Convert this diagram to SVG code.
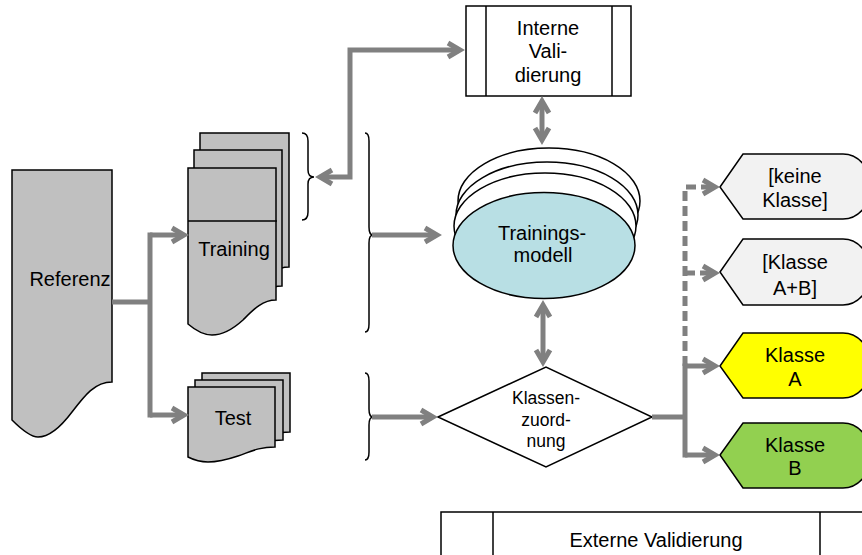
<svg xmlns="http://www.w3.org/2000/svg" width="862" height="555" viewBox="0 0 862 555">
<style>
text{font-family:"Liberation Sans",Arial,sans-serif;font-size:20px;fill:#000;text-anchor:middle}
.sm{font-size:17.5px}
.doc{fill:#c0c0c0;stroke:#000;stroke-width:1.5}
.box{fill:#fff;stroke:#000;stroke-width:1.5}
.ln{fill:none;stroke:#000;stroke-width:1.5}
.c{fill:none;stroke:#808080;stroke-width:5}
.d{stroke-dasharray:10 5}
</style>
<defs>
<marker id="ah" markerUnits="userSpaceOnUse" markerWidth="24" markerHeight="24" refX="12" refY="10" orient="auto-start-reverse" overflow="visible">
<path d="M3,3 L15,10 L3,17" fill="none" stroke="#808080" stroke-width="5" stroke-dasharray="none"/>
</marker>
</defs>
<rect width="862" height="555" fill="#fff"/>
<g id="referenz">
<path class="doc" d="M12,170 H112 V382 C95,382 85,395 72,412 C60,428 48,437 38,437 C30,437 20,428 12,420 Z"/>
<text x="70" y="286">Referenz</text>
</g>
<g id="training">
<path class="doc" d="M200,133 H289 V267 C275,267 266,277 256,287 C245,297 235,302 224,302 C215,302 207,297 200,291 Z"/>
<path class="doc" d="M194,150 H282 V286 C268,286 259,296 249,306 C238,316 228,321 218,321 C209,321 201,316 194,310 Z"/>
<path class="doc" d="M188,168 H276 V300 C262,300 253,310 243,320 C232,330 222,335 212,335 C203,335 195,330 188,324 Z"/>
<line class="ln" x1="188" y1="221" x2="277" y2="221"/>
<text x="234" y="256">Training</text>
</g>
<g id="test">
<path class="doc" d="M202,373 H290 V432 C273,432 265,437 253,441 C241,445 233,447 223,447 C215,447 208,445 202,442 Z"/>
<path class="doc" d="M195,380 H283 V440 C266,440 258,445 246,449 C234,453 226,455 216,455 C208,455 201,453 195,450 Z"/>
<path class="doc" d="M188,387 H275 V447 C258,447 250,452 238,456 C226,460 218,462 208,462 C200,462 194,460 188,457 Z"/>
<text x="233" y="425">Test</text>
</g>
<g id="braces">
<path class="ln" d="M302,133 Q308,133 308,141 V170 Q308,177 314,177 Q308,177 308,184 V212 Q308,220 302,220"/>
<path class="ln" d="M365,133 Q369,133 369,141 V227 Q369,235 373,235 Q369,235 369,243 V324 Q369,332 365,332"/>
<path class="ln" d="M365,373 Q369,373 369,381 V409 Q369,417 373,417 Q369,417 369,425 V452 Q369,460 365,460"/>
</g>
<g id="interne-validierung">
<rect class="box" x="466" y="6" width="165" height="90"/>
<line class="ln" x1="486" y1="6" x2="486" y2="96"/>
<line class="ln" x1="612" y1="6" x2="612" y2="96"/>
<text x="548" y="35">Interne</text>
<text x="548" y="58">Vali-</text>
<text x="548" y="82">dierung</text>
</g>
<g id="trainingsmodell">
<ellipse class="box" cx="549" cy="201" rx="91" ry="53"/>
<ellipse class="box" cx="547" cy="215" rx="91" ry="53"/>
<ellipse class="box" cx="545" cy="226" rx="91" ry="53"/>
<ellipse cx="544" cy="245.5" rx="91" ry="53" fill="#b8dfe4" stroke="#000" stroke-width="1.5"/>
<text x="542" y="240">Trainings-</text>
<text x="543" y="262">modell</text>
</g>
<g id="klassenzuordnung">
<polygon class="box" points="438,417 546,367 652,417 546,467"/>
<text class="sm" x="546" y="404">Klassen-</text>
<text class="sm" x="546" y="426">zuord-</text>
<text class="sm" x="546" y="447">nung</text>
</g>
<g id="keine-klasse">
<path d="M720,187 L743,154 H843 A28,32.5 0 0 1 843,219 H743 Z" fill="#f2f2f2" stroke="#000" stroke-width="1.5"/>
<text x="795" y="183">[keine</text>
<text x="795" y="207">Klasse]</text>
</g>
<g id="klasse-ab">
<path d="M720,272 L743,239 H843 A28,33 0 0 1 843,305 H743 Z" fill="#f2f2f2" stroke="#000" stroke-width="1.5"/>
<text x="795" y="269">[Klasse</text>
<text x="795" y="295">A+B]</text>
</g>
<g id="klasse-a">
<path d="M720,366 L743,333 H843 A28,32.5 0 0 1 843,398 H743 Z" fill="#ffff00" stroke="#000" stroke-width="1.5"/>
<text x="795" y="362">Klasse</text>
<text x="795" y="386">A</text>
</g>
<g id="klasse-b">
<path d="M720,455 L743,423 H843 A28,32.5 0 0 1 843,488 H743 Z" fill="#92d050" stroke="#000" stroke-width="1.5"/>
<text x="795" y="452">Klasse</text>
<text x="795" y="475">B</text>
</g>
<g id="externe-validierung">
<rect class="box" x="441" y="512" width="440" height="60"/>
<line class="ln" x1="493" y1="512" x2="493" y2="555"/>
<line class="ln" x1="820" y1="512" x2="820" y2="555"/>
<text x="656" y="547">Externe Validierung</text>
</g>
<g id="connectors">
<path class="c" d="M112,302 H150"/>
<path class="c" d="M150,232.5 V417.5"/>
<path class="c" d="M150,235 H181" marker-end="url(#ah)"/>
<path class="c" d="M150,415 H181" marker-end="url(#ah)"/>
<path class="c" d="M323,177 H350 V50 H457" marker-start="url(#ah)" marker-end="url(#ah)"/>
<path class="c" d="M372,235 H434" marker-end="url(#ah)"/>
<path class="c" d="M372,417 H430" marker-end="url(#ah)"/>
<path class="c" d="M542,104 V137" marker-start="url(#ah)" marker-end="url(#ah)"/>
<path class="c" d="M543,308 V359" marker-start="url(#ah)" marker-end="url(#ah)"/>
<path class="c" d="M652,417 H685"/>
<path class="c" d="M685,363.5 V457.5"/>
<path class="c" d="M685,366 H712" marker-end="url(#ah)"/>
<path class="c" d="M685,455 H712" marker-end="url(#ah)"/>
<path class="c d" d="M685,366 V187 H712" marker-end="url(#ah)"/>
<path class="c d" d="M685,273 H712" marker-end="url(#ah)"/>
</g>
</svg>
